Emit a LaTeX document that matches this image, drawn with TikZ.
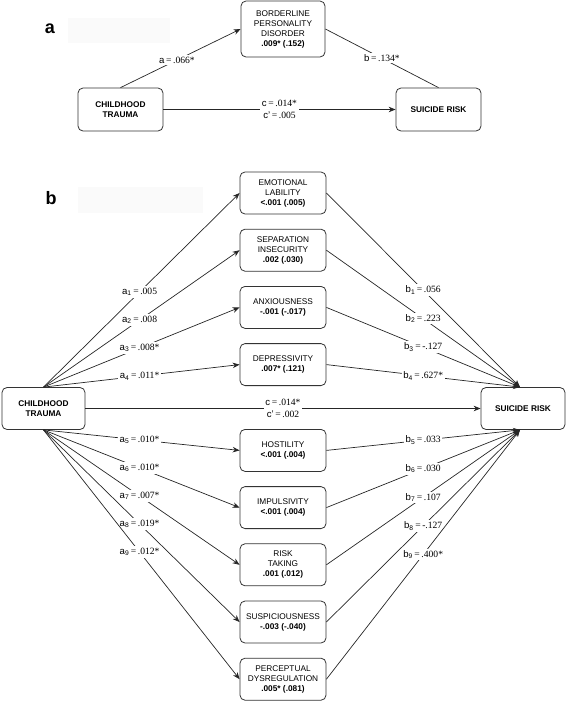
\documentclass[tikz,border=0pt]{standalone}
\usepackage{fontspec}
\setmainfont{Liberation Serif}
\setsansfont{Liberation Sans}
\usetikzlibrary{arrows.meta,calc}
\newcommand\mylbl[3]{\textsf{#1}\textsubscript{\sffamily #2}\,=\,#3}
\tikzset{
  box/.style={draw=black!80, line width=0.8pt, rounded corners=5pt, align=center,
    font=\sffamily\fontsize{8.3}{10}\selectfont, inner sep=0pt,
    minimum width=86pt, minimum height=42pt},
  boldbox/.style={box, font=\sffamily\bfseries\fontsize{8.3}{10}\selectfont},
  conn/.style={draw=black!85, line width=0.7pt},
  arr/.style={conn, -{Stealth[length=7pt,width=5.5pt]}},
  lab/.style={fill=white, inner sep=1.6pt, font=\fontsize{9.6}{11.5}\selectfont},
  panel/.style={font=\sffamily\bfseries\fontsize{18}{18}\selectfont, inner sep=0pt},
  shade/.style={fill=black!2, draw=none},
}
\begin{document}
\begin{tikzpicture}[x=1pt,y=-1pt]
\useasboundingbox (0,0) rectangle (567,702);
% ---------- panel a ----------
\fill[shade] (68,18) rectangle (170,43);
\node[panel] (pa) at (50,29) {a};
\node[boldbox, minimum width=85pt, minimum height=43pt] (ct1) at (120.5,109.5) {CHILDHOOD\\TRAUMA};
\node[box, minimum width=84pt, minimum height=56pt] (bpd) at (283,29) {BORDERLINE\\PERSONALITY\\DISORDER\\\textbf{.009* (.152)}};
\node[boldbox, minimum width=85pt, minimum height=43pt] (sr1) at (438.5,109.5) {SUICIDE RISK};
\draw[arr] (ct1.north) -- node[lab,pos=0.47] {\textsf{a}\,=\,.066*} (bpd.west);
\draw[conn] (bpd.east) -- node[lab,pos=0.5] {\textsf{b}\,=\,.134*} (sr1.north);
\draw[arr] (ct1.east) -- node[lab,align=center,pos=0.5] {\textsf{c}\,=\,.014*\\\textsf{c'}\,=\,.005} (sr1.west);
% ---------- panel b ----------
\fill[shade] (78,187) rectangle (203,213);
\node[panel] (pb) at (51,198) {b};
\node[boldbox, minimum width=83pt] (ct2) at (43.5,408.5) {CHILDHOOD\\TRAUMA};
\node[boldbox, minimum width=84pt] (sr2) at (523,408.5) {SUICIDE RISK};
\coordinate (srtop) at ([xshift=-3pt]sr2.north);
\coordinate (srbot) at ([xshift=-3pt]sr2.south);
\node[box] (m1) at (283,193.0) {EMOTIONAL\\LABILITY\\\textbf{<.001 (.005)}};
\node[box] (m2) at (283,250.2) {SEPARATION\\INSECURITY\\\textbf{.002 (.030)}};
\node[box] (m3) at (283,307.4) {ANXIOUSNESS\\\textbf{-.001 (-.017)}};
\node[box] (m4) at (283,364.6) {DEPRESSIVITY\\\textbf{.007* (.121)}};
\node[box] (m5) at (283,450.4) {HOSTILITY\\\textbf{<.001 (.004)}};
\node[box] (m6) at (283,507.6) {IMPULSIVITY\\\textbf{<.001 (.004)}};
\node[box] (m7) at (283,564.8) {RISK\\TAKING\\\textbf{.001 (.012)}};
\node[box] (m8) at (283,622.0) {SUSPICIOUSNESS\\\textbf{-.003 (-.040)}};
\node[box] (m9) at (283,679.2) {PERCEPTUAL\\DYSREGULATION\\\textbf{.005* (.081)}};
% a paths
\draw[arr] (ct2.north) -- node[lab,pos=0.49] {\mylbl{a}{1}{.005}} (m1.west);
\draw[arr] (ct2.north) -- node[lab,pos=0.49] {\mylbl{a}{2}{.008}} (m2.west);
\draw[arr] (ct2.north) -- node[lab,pos=0.49] {\mylbl{a}{3}{.008*}} (m3.west);
\draw[arr] (ct2.north) -- node[lab,pos=0.49] {\mylbl{a}{4}{.011*}} (m4.west);
\draw[arr] (ct2.south) -- node[lab,pos=0.49] {\mylbl{a}{5}{.010*}} (m5.west);
\draw[arr] (ct2.south) -- node[lab,pos=0.49] {\mylbl{a}{6}{.010*}} (m6.west);
\draw[arr] (ct2.south) -- node[lab,pos=0.49] {\mylbl{a}{7}{.007*}} (m7.west);
\draw[arr] (ct2.south) -- node[lab,pos=0.49] {\mylbl{a}{8}{.019*}} (m8.west);
\draw[arr] (ct2.south) -- node[lab,pos=0.49] {\mylbl{a}{9}{.012*}} (m9.west);
% b paths
\draw[arr] (m1.east) -- node[lab,pos=0.5] {\mylbl{b}{1}{.056}} (srtop);
\draw[arr] (m2.east) -- node[lab,pos=0.5] {\mylbl{b}{2}{.223}} (srtop);
\draw[arr] (m3.east) -- node[lab,pos=0.5] {\mylbl{b}{3}{-.127}} (srtop);
\draw[arr] (m4.east) -- node[lab,pos=0.5] {\mylbl{b}{4}{.627*}} (srtop);
\draw[arr] (m5.east) -- node[lab,pos=0.5] {\mylbl{b}{5}{.033}} (srbot);
\draw[arr] (m6.east) -- node[lab,pos=0.5] {\mylbl{b}{6}{.030}} (srbot);
\draw[arr] (m7.east) -- node[lab,pos=0.5] {\mylbl{b}{7}{.107}} (srbot);
\draw[arr] (m8.east) -- node[lab,pos=0.5] {\mylbl{b}{8}{-.127}} (srbot);
\draw[arr] (m9.east) -- node[lab,pos=0.5] {\mylbl{b}{9}{.400*}} (srbot);
% c path
\draw[arr] (ct2.east) -- node[lab,align=center,pos=0.5] {\textsf{c}\,=\,.014*\\\textsf{c'}\,=\,.002} (sr2.west);
\end{tikzpicture}
\end{document}
